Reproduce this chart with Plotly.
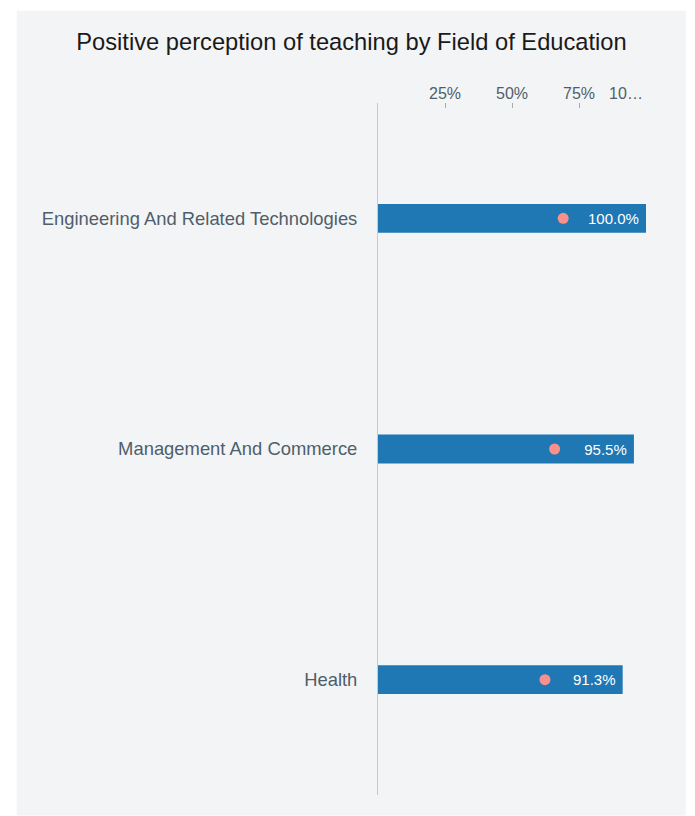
import plotly.graph_objects as go

categories = ["Engineering And Related Technologies", "Management And Commerce", "Health"]
bar_values = [100.0, 95.5, 91.3]
dot_values = [69.1, 65.9, 62.3]
tick_vals = [0, 25, 50, 75, 100]
tick_text = ["", "25%", "50%", "75%", "10…" + "\u00a0" * 9]

OFF = 8  # page body margin
W, H = 695 - OFF, 816 - OFF
# plot area in page pixels -> figure pixels
PL, PR, PT, PB = 378 - OFF, 648 - OFF, 102.5 - OFF, 795.5 - OFF

fig = go.Figure()
fig.add_trace(go.Bar(
    x=bar_values, y=categories, orientation="h",
    marker=dict(color="#1f77b4", line=dict(width=0)),
    width=0.125,
    text=[f"{v:.1f}%\u00a0" for v in bar_values],
    textposition="inside", insidetextanchor="end",
    textfont=dict(color="white", size=15, family="Liberation Sans, Arial, sans-serif"),
    showlegend=False, hoverinfo="skip",
))
fig.add_trace(go.Scatter(
    x=dot_values, y=categories, mode="markers",
    marker=dict(color="#f6918d", size=11, line=dict(width=0)),
    showlegend=False, hoverinfo="skip",
))

pw = PR - PL
ph = PB - PT
fig.add_shape(type="rect", xref="paper", yref="paper", layer="below",
              x0=(14 - OFF - PL) / pw, x1=(688 - OFF - PL) / pw,
              y0=(PB - (816 - OFF)) / ph, y1=(PB - (10 - OFF)) / ph,
              fillcolor="#f3f4f6", line=dict(width=0))

fig.update_layout(
    width=W, height=H,
    margin=dict(l=PL, r=W - PR, t=PT, b=H - PB, pad=0),
    paper_bgcolor="white", plot_bgcolor="rgba(0,0,0,0)",
    font=dict(family="Liberation Sans, Arial, sans-serif", color="#4f5e6b"),
    title=dict(text="Positive perception of teaching by Field of Education",
               x=(351.5 - OFF) / W, xref="container", xanchor="center",
               y=1 - (42 - OFF) / H, yref="container", yanchor="middle",
               font=dict(size=23.7, color="#1a1a1a")),
)
fig.update_xaxes(
    side="top", range=[0, 100], tickvals=tick_vals, ticktext=tick_text,
    ticks="inside", ticklen=5, tickcolor="#aaaaaa", tickwidth=1,
    showgrid=False, zeroline=False, showline=False,
    tickfont=dict(size=16, color="#4f5e6b"), fixedrange=True,
)
fig.update_yaxes(
    autorange="reversed", showgrid=False, zeroline=False,
    showline=True, linecolor="#c8c8c8", linewidth=1,
    ticks="", ticklabelstandoff=16,
    tickfont=dict(size=18.4, color="#4f5e6b"), fixedrange=True,
)

fig.write_html("out.html")
